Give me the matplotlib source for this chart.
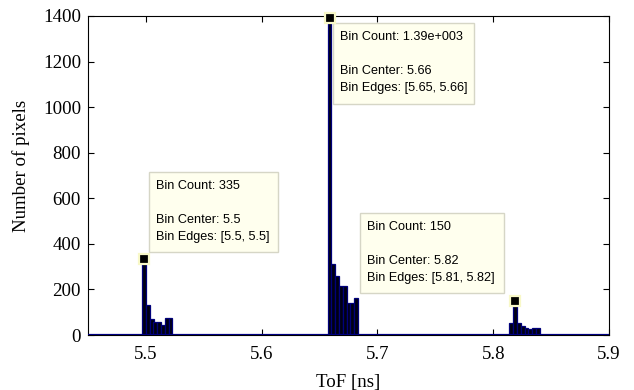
import matplotlib
matplotlib.use("Agg")
import matplotlib.pyplot as plt
from matplotlib.patches import Rectangle

# ---- data ----
bin_centers = [5.4984, 5.5017, 5.5050, 5.5082, 5.5115, 5.5148, 5.5180, 5.5213,
               5.6586, 5.6619, 5.6652, 5.6684, 5.6717, 5.6750, 5.6782, 5.6815,
               5.8156, 5.8189, 5.8222, 5.8254, 5.8287, 5.8320, 5.8352, 5.8385]
bin_counts = [335, 130, 69, 55, 55, 45, 75, 75,
              1390, 311, 258, 213, 213, 141, 142, 162,
              51, 150, 51, 40, 29, 25, 29, 29]
bin_width = 0.00327

tip_x = [5.4984, 5.6586, 5.8189]
tip_y = [335, 1390, 150]
tip_texts = ["Bin Count: 335\n\nBin Center: 5.5\nBin Edges: [5.5, 5.5]",
             "Bin Count: 1.39e+003\n\nBin Center: 5.66\nBin Edges: [5.65, 5.66]",
             "Bin Count: 150\n\nBin Center: 5.82\nBin Edges: [5.81, 5.82]"]

x_ticks = [5.5, 5.6, 5.7, 5.8, 5.9]
y_ticks = [0, 200, 400, 600, 800, 1000, 1200, 1400]
x_label = "ToF [ns]"
y_label = "Number of pixels"

# ---- figure ----
W, H = 634, 390
fig = plt.figure(figsize=(W / 100, H / 100), dpi=100)
L, R, T, B = 88, 609, 16, 335
ax = fig.add_axes([L / W, 1 - B / H, (R - L) / W, (B - T) / H])

ax.bar(bin_centers, bin_counts, width=bin_width, color="#000012",
       edgecolor="#00007a", linewidth=0.9, zorder=2)
ax.axhline(0, color="#000080", lw=1.6, zorder=3)

ax.set_xlim(5.45, 5.9)
ax.set_ylim(0, 1400)
ax.set_xticks(x_ticks)
ax.set_yticks(y_ticks)
ax.set_xticklabels([f"{t:g}" for t in x_ticks])
ax.set_yticklabels([str(t) for t in y_ticks])

serif = "Liberation Serif"
fs = 13.6
for lab in ax.get_xticklabels() + ax.get_yticklabels():
    lab.set_fontfamily(serif)
    lab.set_fontsize(fs)
ax.set_xlabel(x_label, fontfamily=serif, fontsize=fs, labelpad=8)
ax.set_ylabel(y_label, fontfamily=serif, fontsize=fs)
ax.yaxis.set_label_coords(-0.112, 0.53)
ax.tick_params(direction="in", length=4, width=0.8, top=True, right=True)
ax.tick_params(axis="x", pad=8)
ax.tick_params(axis="y", pad=5)
for s in ax.spines.values():
    s.set_linewidth(0.8)

# ---- data tips ----
def px(x, y):
    return ((x - L) / (R - L), (B - y) / (B - T))

boxes = [(149, 172, 278, 252), (333, 23, 474, 104), (360, 213, 504, 293)]
for (x0, y0, x1, y1), txt in zip(boxes, tip_texts):
    ax0, ay1 = px(x0, y1)
    ax1, ay0 = px(x1, y0)
    ax.add_patch(Rectangle((ax0, ay1), ax1 - ax0, ay0 - ay1,
                           transform=ax.transAxes, facecolor="#ffffee",
                           edgecolor="#d6d6c6", lw=1.0, zorder=5))
    tx, ty = px(x0 + 7, y0 + 8)
    ax.text(tx, ty, txt, transform=ax.transAxes, ha="left", va="top",
            fontfamily="Liberation Sans", fontsize=9.1, linespacing=1.55,
            color="black", zorder=6)

ax.plot(tip_x, tip_y, linestyle="none", marker="s", markersize=7.5,
        markerfacecolor="black", markeredgecolor="#f8f8c8",
        markeredgewidth=1.6, zorder=7, clip_on=False)

fig.savefig("out.png", dpi=100)
